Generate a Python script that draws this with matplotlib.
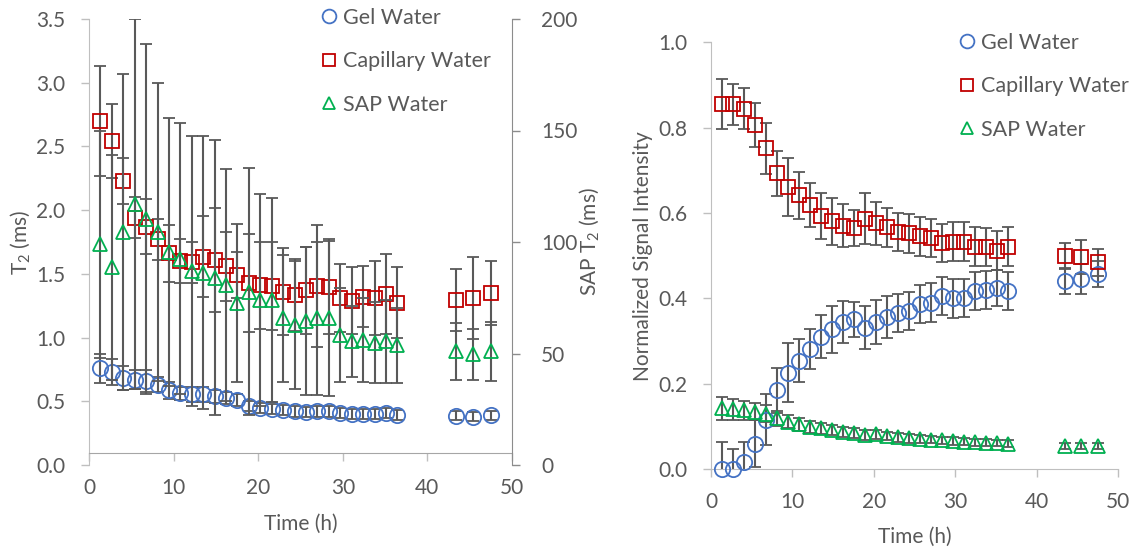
import matplotlib
matplotlib.use("Agg")
import matplotlib.pyplot as plt
from matplotlib.ticker import FormatStrFormatter

plt.rcParams['font.family'] = ['Lato', 'DejaVu Sans']
plt.rcParams['mathtext.fontset'] = 'custom'
plt.rcParams['mathtext.rm'] = 'Lato'

# time points (h)
time_h = [1.35, 2.7, 4.05, 5.4, 6.75, 8.1, 9.45, 10.8, 12.15, 13.5, 14.85, 16.2, 17.55, 18.9,
          20.25, 21.6, 22.95, 24.3, 25.65, 27.0, 28.35, 29.7, 31.05, 32.4, 33.75, 35.1, 36.45,
          43.4, 45.4, 47.5]

# left: T2 (ms)
gel_t2 = [0.76, 0.73, 0.685, 0.67, 0.66, 0.63, 0.585, 0.563, 0.555, 0.555, 0.54, 0.525, 0.51, 0.46,
          0.45, 0.44, 0.43, 0.42, 0.415, 0.42, 0.42, 0.405, 0.40, 0.40, 0.40, 0.41, 0.39,
          0.387, 0.38, 0.39]
gel_t2_err = [0.115, 0.10, 0.095, 0.075, 0.085, 0.06, 0.065, 0.05, 0.06, 0.06, 0.05, 0.05, 0.05, 0.04,
              0.04, 0.04, 0.04, 0.04, 0.04, 0.04, 0.04, 0.04, 0.04, 0.04, 0.04, 0.04, 0.04,
              0.035, 0.035, 0.035]
cap_t2 = [2.70, 2.54, 2.23, 1.94, 1.87, 1.77, 1.66, 1.60, 1.59, 1.635, 1.61, 1.56, 1.49, 1.425,
          1.41, 1.405, 1.36, 1.335, 1.37, 1.405, 1.40, 1.31, 1.29, 1.32, 1.31, 1.34, 1.275,
          1.295, 1.31, 1.35]
cap_t2_err = [0.43, 0.29, 0.18, 0.16, 0.215, 0.16, 0.22, 0.17, 0.16, 0.32, 0.41, 0.27, 0.18, 0.385,
              0.34, 0.345, 0.34, 0.28, 0.34, 0.48, 0.37, 0.265, 0.26, 0.24, 0.29, 0.315, 0.28,
              0.24, 0.325, 0.25]
sap_t2 = [98.9, 88.6, 104.6, 117.1, 110.3, 104.6, 95.4, 92.6, 87.1, 86.3, 84.0, 80.6, 72.6, 77.7,
          74.0, 74.0, 65.7, 62.9, 64.6, 65.7, 65.7, 58.3, 55.4, 56.0, 54.9, 55.4, 53.7,
          50.9, 49.7, 50.9]
sap_t2_err = [50.9, 50.3, 70.9, 82.9, 78.3, 66.9, 60.0, 60.6, 60.6, 61.1, 61.7, 52.0, 35.4, 55.4,
              47.4, 45.7, 28.6, 28.6, 33.1, 34.3, 34.9, 21.1, 16.0, 18.9, 18.0, 18.6, 16.9,
              12.6, 11.4, 13.1]

# right: normalized signal intensity
gel_si = [0.0, 0.0, 0.016, 0.059, 0.116, 0.184, 0.226, 0.254, 0.281, 0.31, 0.327, 0.344, 0.351, 0.331,
          0.344, 0.356, 0.365, 0.37, 0.386, 0.39, 0.406, 0.40, 0.401, 0.417, 0.42, 0.425, 0.417,
          0.441, 0.445, 0.457]
gel_si_err = [0.063, 0.047, 0.047, 0.055, 0.06, 0.052, 0.07, 0.051, 0.047, 0.05, 0.055, 0.049, 0.041, 0.05,
              0.051, 0.049, 0.045, 0.045, 0.045, 0.045, 0.045, 0.045, 0.045, 0.045, 0.045, 0.042, 0.045,
              0.03, 0.035, 0.03]
cap_si = [0.855, 0.855, 0.844, 0.806, 0.752, 0.693, 0.662, 0.642, 0.619, 0.593, 0.581, 0.570, 0.564, 0.587,
          0.576, 0.566, 0.556, 0.552, 0.545, 0.541, 0.530, 0.533, 0.533, 0.521, 0.520, 0.512, 0.521,
          0.499, 0.497, 0.484]
cap_si_err = [0.058, 0.048, 0.048, 0.052, 0.06, 0.053, 0.068, 0.055, 0.052, 0.054, 0.055, 0.05, 0.042, 0.06,
              0.05, 0.046, 0.045, 0.045, 0.045, 0.045, 0.045, 0.045, 0.045, 0.045, 0.045, 0.045, 0.045,
              0.031, 0.04, 0.031]
sap_si = [0.142, 0.14, 0.138, 0.134, 0.13, 0.119, 0.111, 0.105, 0.099, 0.095, 0.091, 0.086, 0.084, 0.08,
          0.081, 0.077, 0.074, 0.072, 0.07, 0.069, 0.067, 0.065, 0.064, 0.063, 0.062, 0.061, 0.059,
          0.055, 0.053, 0.053]
sap_si_err = [0.027, 0.025, 0.022, 0.02, 0.02, 0.018, 0.016, 0.015, 0.014, 0.013, 0.012, 0.012, 0.011, 0.011,
              0.01, 0.01, 0.01, 0.01, 0.009, 0.009, 0.009, 0.009, 0.008, 0.008, 0.008, 0.008, 0.008,
              0.007, 0.007, 0.007]

labels = ["Gel Water", "Capillary Water", "SAP Water"]
colors = ["#4472C4", "#C00000", "#00B050"]
markers = ["o", "s", "^"]
msizes = [11, 10, 10]

TXT = "#595959"
ERR = "#595959"
FS = 15
LFS = 15.5
W, H = 1142, 556


def series(ax, y, err, i):
    ax.errorbar(time_h, y, yerr=err, fmt="none", ecolor=ERR, elinewidth=1.5,
                capsize=4.3, capthick=1.3, zorder=2)
    h, = ax.plot(time_h, y, ls="none", marker=markers[i], ms=msizes[i], mfc="none",
                 mec=colors[i], mew=1.3, clip_on=False, zorder=3, label=labels[i])
    return h


def style(ax, spine_color):
    ax.tick_params(colors=spine_color, labelcolor=TXT, labelsize=FS, length=6, width=1)
    for s in ax.spines.values():
        s.set_color(spine_color)


def legend(ax, handles, x, y):
    ax.legend(handles=handles, loc="upper left", bbox_to_anchor=(x / W, 1 - y / H),
              bbox_transform=fig.transFigure, frameon=False, fontsize=LFS, labelcolor=TXT,
              handlelength=1.0, handletextpad=0.14, labelspacing=1.09, borderpad=0,
              borderaxespad=0, markerscale=0.9)


fig = plt.figure(figsize=(W / 100, H / 100), dpi=100)

# ---- left panel ----
ax1 = fig.add_axes([89 / W, 91 / H, 423 / W, 446 / H])
ax1b = ax1.twinx()
h1 = series(ax1, gel_t2, gel_t2_err, 0)
h2 = series(ax1, cap_t2, cap_t2_err, 1)
h3 = series(ax1b, sap_t2, sap_t2_err, 2)
ax1.set_xlim(0, 50)
ax1.set_ylim(0, 3.5)
ax1b.set_ylim(0, 200)
ax1.set_xticks(range(0, 51, 10))
ax1.set_yticks([i * 0.5 for i in range(8)])
ax1.yaxis.set_major_formatter(FormatStrFormatter("%.1f"))
ax1b.set_yticks(range(0, 201, 50))
style(ax1, "#BFBFBF")
style(ax1b, "#8C8C8C")
ax1.spines["top"].set_visible(False)
ax1.spines["right"].set_visible(False)
ax1.spines["bottom"].set_position(("axes", 12.3 / 446))
ax1.spines["bottom"].set_color("#A6A6A6")
for s in ["top", "left", "bottom"]:
    ax1b.spines[s].set_visible(False)
ax1.tick_params(axis="y", pad=11)
ax1.tick_params(axis="x", pad=12.5)
ax1b.tick_params(axis="y", pad=15)
ax1.set_xlabel("Time (h)", fontsize=FS, color=TXT, labelpad=11)
ax1.set_ylabel(r"T$_\mathregular{2}$ (ms)", fontsize=FS, color=TXT, labelpad=2)
ax1b.set_ylabel(r"SAP T$_\mathregular{2}$ (ms)", fontsize=FS, color=TXT, labelpad=0)
legend(ax1b, [h1, h2, h3], 318.3, 8)

# ---- right panel ----
ax2 = fig.add_axes([711 / W, 87 / H, 407.3 / W, 426.7 / H])
g1 = series(ax2, gel_si, gel_si_err, 0)
g2 = series(ax2, cap_si, cap_si_err, 1)
g3 = series(ax2, sap_si, sap_si_err, 2)
ax2.set_xlim(0, 50)
ax2.set_ylim(0, 1.0)
ax2.set_xticks(range(0, 51, 10))
ax2.set_yticks([i * 0.2 for i in range(6)])
ax2.yaxis.set_major_formatter(FormatStrFormatter("%.1f"))
style(ax2, "#BFBFBF")
ax2.spines["top"].set_visible(False)
ax2.spines["right"].set_visible(False)
ax2.tick_params(axis="y", pad=11)
ax2.tick_params(axis="x", pad=10.5)
ax2.set_xlabel("Time (h)", fontsize=FS, color=TXT, labelpad=10.5)
ax2.set_ylabel("Normalized Signal Intensity", fontsize=FS, color=TXT, labelpad=4)
legend(ax2, [g1, g2, g3], 956.3, 33)

fig.savefig("out.png", dpi=100)
